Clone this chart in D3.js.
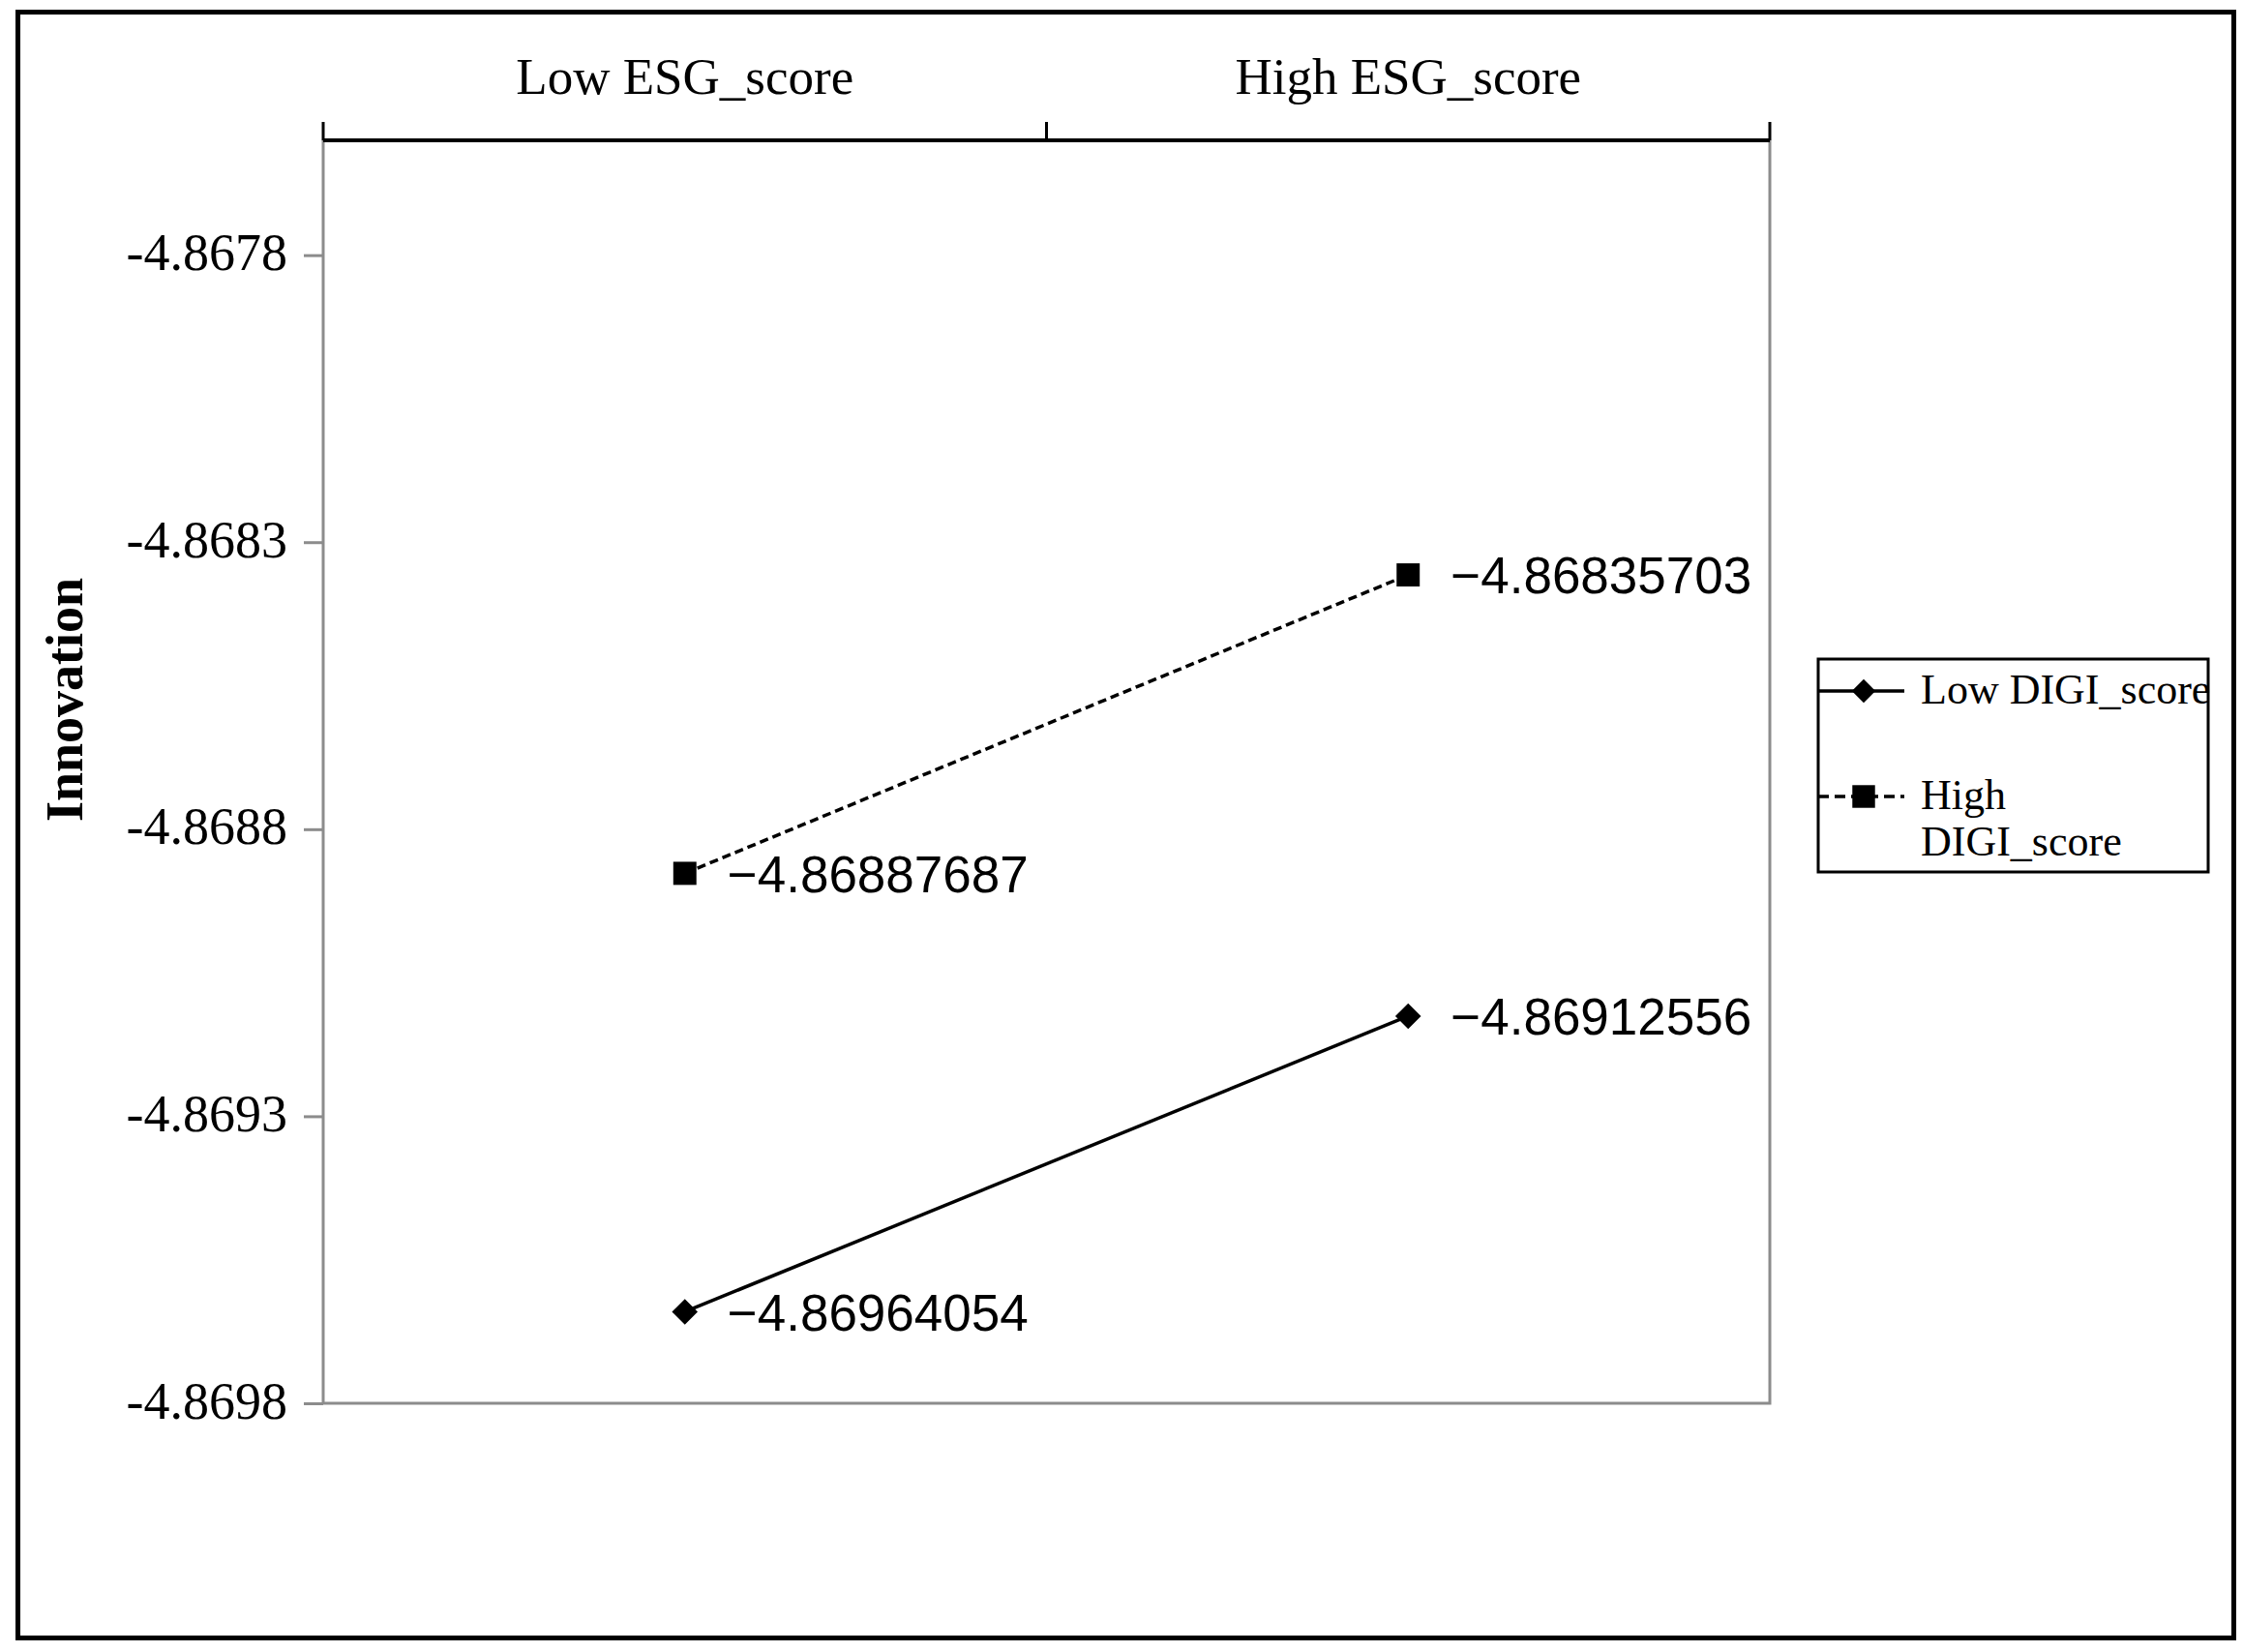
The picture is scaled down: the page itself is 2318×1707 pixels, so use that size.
<!DOCTYPE html>
<html>
<head>
<meta charset="utf-8">
<script src="https://cdn.jsdelivr.net/npm/d3@7"></script>
<style>
  html, body { margin: 0; padding: 0; background: #fff; }
  svg { display: block; }
</style>
</head>
<body>
<div id="chart"></div>
<script>
// data
const esgLevels = ['Low ESG_score', 'High ESG_score'];
const seriesNames = ['Low DIGI_score', 'High DIGI_score'];
const lowDigiValues = [-4.86964054, -4.86912556];
const highDigiValues = [-4.86887687, -4.86835703];
const yTicks = [-4.8698, -4.8693, -4.8688, -4.8683, -4.8678];
const yDomain = [-4.8698, -4.8676];

const width = 2318;
const height = 1707;
const serif = '"Liberation Serif", "Times New Roman", serif';
const sans = '"Liberation Sans", Arial, sans-serif';
const grey = '#8c8c8c';

const svg = d3.select('#chart')
    .append('svg')
    .attr('width', width)
    .attr('height', height);

// outer frame
svg.append('rect')
    .attr('x', 18.5).attr('y', 12.5)
    .attr('width', 2290).attr('height', 1680)
    .attr('fill', 'none')
    .attr('stroke', '#000')
    .attr('stroke-width', 5);

const plot = { left: 334, right: 1829, top: 145, bottom: 1450 };

const x = d3.scaleBand()
    .domain(esgLevels)
    .range([plot.left, plot.right]);

const y = d3.scaleLinear()
    .domain(yDomain)
    .range([plot.bottom, plot.top]);

const cx = d => x(d) + x.bandwidth() / 2;

// plot area: grey left/right/bottom
svg.append('path')
    .attr('d', `M${plot.left},${plot.top}V${plot.bottom}H${plot.right}V${plot.top}`)
    .attr('fill', 'none')
    .attr('stroke', grey)
    .attr('stroke-width', 3);

// y axis
const yAxis = svg.append('g')
    .attr('transform', `translate(${plot.left},0)`)
    .call(d3.axisLeft(y).tickValues(yTicks).tickSize(20).tickPadding(17)
        .tickFormat(d => d.toFixed(4)));
yAxis.select('.domain').remove();
yAxis.selectAll('.tick line').attr('stroke', grey).attr('stroke-width', 3);
yAxis.selectAll('.tick text')
    .attr('font-family', serif)
    .attr('font-size', 54)
    .attr('dy', '0.28em')
    .attr('fill', '#000');

// top category axis (black), ticks at the band edges
const edges = esgLevels.map(d => x(d)).concat([x(esgLevels[esgLevels.length - 1]) + x.bandwidth()]);
svg.append('line')
    .attr('x1', plot.left).attr('x2', plot.right)
    .attr('y1', plot.top).attr('y2', plot.top)
    .attr('stroke', '#000').attr('stroke-width', 4);
svg.selectAll('.xtick')
    .data(edges)
    .enter().append('line')
    .attr('class', 'xtick')
    .attr('x1', d => d).attr('x2', d => d)
    .attr('y1', plot.top).attr('y2', plot.top - 19)
    .attr('stroke', '#000').attr('stroke-width', 3);
svg.selectAll('.xlabel')
    .data(esgLevels)
    .enter().append('text')
    .attr('class', 'xlabel')
    .attr('x', d => cx(d))
    .attr('y', 97)
    .attr('text-anchor', 'middle')
    .attr('font-family', serif)
    .attr('font-size', 53)
    .text(d => d);

// y title
svg.append('text')
    .attr('transform', 'translate(85,723) rotate(-90)')
    .attr('text-anchor', 'middle')
    .attr('font-family', serif)
    .attr('font-weight', 'bold')
    .attr('font-size', 54)
    .text('Innovation');

const series = [
    { name: seriesNames[0], values: lowDigiValues, dash: null, marker: d3.symbolDiamond2, size: 450 },
    { name: seriesNames[1], values: highDigiValues, dash: '9,5', marker: d3.symbolSquare2, size: 729 }
];

const line = d3.line()
    .x((d, i) => cx(esgLevels[i]))
    .y(d => y(d));

series.forEach(s => {
    svg.append('path')
        .datum(s.values)
        .attr('d', line)
        .attr('fill', 'none')
        .attr('stroke', '#000')
        .attr('stroke-width', 3.5)
        .attr('stroke-dasharray', s.dash);

    const pts = svg.append('g').selectAll('g')
        .data(s.values)
        .enter().append('g')
        .attr('transform', (d, i) => `translate(${cx(esgLevels[i])},${y(d)})`);

    pts.append('path')
        .attr('d', d3.symbol().type(s.marker).size(s.size))
        .attr('fill', '#000');

    pts.append('text')
        .attr('x', 44)
        .attr('dy', '0.36em')
        .attr('font-family', sans)
        .attr('font-size', 53)
        .text(d => '\u2212' + Math.abs(d).toFixed(8));
});

// legend
const legend = svg.append('g').attr('transform', 'translate(1879,681)');
legend.append('rect')
    .attr('width', 403).attr('height', 220)
    .attr('fill', 'none')
    .attr('stroke', '#000')
    .attr('stroke-width', 3);

const legendItem = legend.selectAll('.legend-item')
    .data(series)
    .enter().append('g')
    .attr('class', 'legend-item')
    .attr('transform', (d, i) => `translate(0,${i === 0 ? 33 : 142})`);

legendItem.append('line')
    .attr('x1', 0).attr('x2', 89)
    .attr('stroke', '#000')
    .attr('stroke-width', 3.5)
    .attr('stroke-dasharray', d => d.dash ? '11,6' : null);

legendItem.append('path')
    .attr('transform', 'translate(47,0)')
    .attr('d', d => d3.symbol().type(d.marker).size(d.dash ? 700 : 380)())
    .attr('fill', '#000');

legendItem.append('text')
    .attr('x', 106)
    .attr('y', 13)
    .attr('font-family', serif)
    .attr('font-size', 44)
    .selectAll('tspan')
    .data(d => d.dash ? ['High', 'DIGI_score'] : [d.name])
    .enter().append('tspan')
    .attr('x', 106)
    .attr('dy', (d, i) => i === 0 ? 0 : 48)
    .text(d => d);
</script>
</body>
</html>
